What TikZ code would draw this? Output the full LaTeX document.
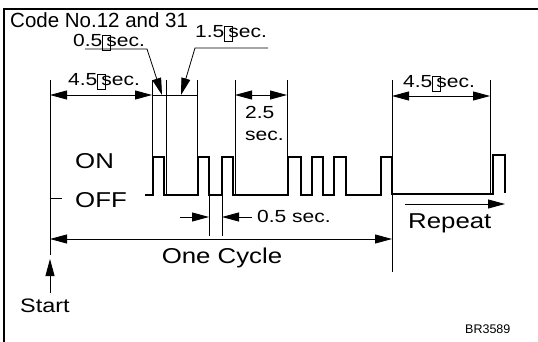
\documentclass[tikz,border=0pt]{standalone}
\usepackage{fontspec}
\setmainfont{Liberation Sans}
\newfontfamily\widefont[FakeStretch=1.2]{Liberation Sans}
\usetikzlibrary{arrows.meta}
\newcommand\missbox{{\fboxsep0pt\fboxrule0.5pt\raisebox{-0.18em}{\fbox{\rule{0pt}{0.82em}\hspace{0.42em}}}}\kern-0.25em}
\tikzset{
  thin line/.style={line width=0.8pt},
  onearrow/.style={thin line,-{Triangle[length=17pt,width=9pt]}},
  twoarrow/.style={thin line,{Triangle[length=17pt,width=9pt]}-{Triangle[length=17pt,width=9pt]}},
  wave/.style={line width=2.4pt,line join=miter},
  frame/.style={line width=2.5pt},
  small/.style={inner sep=0pt,anchor=base west,font=\widefont\fontsize{17.5}{20}\selectfont},
  large/.style={inner sep=0pt,anchor=base west,font=\widefont\fontsize{21.5}{24}\selectfont},
}
\begin{document}
\begin{tikzpicture}[x=1pt,y=-1pt]
\useasboundingbox (0,0) rectangle (538,342);
% frame
\coordinate (ftl) at (4,9);
\coordinate (ftr) at (538,9);
\coordinate (fbl) at (4,342);
\draw[frame] (ftr) -- (ftl) -- (fbl);

% texts
\node[inner sep=0pt,anchor=base west,font=\fontsize{20.5}{24}\selectfont] (code) at (10,28) {Code No.12 and 31};
\node[small] (t05) at (73,47) {0.5\missbox sec.};
\node[small] (t15) at (195,38) {1.5\missbox sec.};
\node[small] (t45a) at (68,86) {4.5\missbox sec.};
\node[small] (t45b) at (403,88) {4.5\missbox sec.};
\node[small] (t25a) at (245,119) {2.5};
\node[small] (t25b) at (245,141) {sec.};
\node[small] (t05b) at (257,222) {0.5 sec.};
\node[large] (on) at (75,168) {ON};
\node[large] (off) at (75,207) {OFF};
\node[large] (rep) at (408,228) {Repeat};
\node[large,anchor=base] (cyc) at (222,263) {One Cycle};
\node[inner sep=0pt,anchor=base west,font=\widefont\fontsize{19.5}{22}\selectfont] (start) at (20,312) {Start};
\node[inner sep=0pt,anchor=base west,font=\fontsize{12.5}{14}\selectfont] (br) at (465,333) {BR3589};

% vertical reference lines
\coordinate (s0) at (50,80);   \coordinate (s1) at (50,255);
\coordinate (a0) at (152,80);  \coordinate (a1) at (152,157);
\coordinate (b0) at (166,80);  \coordinate (b1) at (166,195);
\coordinate (c0) at (197,80);  \coordinate (c1) at (197,157);
\coordinate (d0) at (235,80);  \coordinate (d1) at (235,195);
\coordinate (e0) at (287,80);  \coordinate (e1) at (287,157);
\coordinate (f0) at (392,80);  \coordinate (f1) at (392,272);
\coordinate (g0) at (490,80);  \coordinate (g1) at (490,195);
\coordinate (h0) at (209,195); \coordinate (h1) at (209,236);
\coordinate (k0) at (222,195); \coordinate (k1) at (222,236);
\foreach \p in {s,a,b,c,d,e,f,g,h,k} \draw[thin line] (\p0) -- (\p1);

% OFF tick
\coordinate (tick0) at (50,198); \coordinate (tick1) at (62,198);
\draw[thin line] (tick0) -- (tick1);

% dimension lines at top
\coordinate (y45a) at (50,95);  \coordinate (y45b) at (152,95);
\draw[twoarrow] (y45a) -- (y45b);
\coordinate (ym0) at (152,95); \coordinate (ym1) at (197,95);
\draw[thin line] (ym0) -- (ym1);
\coordinate (y25a) at (235,95); \coordinate (y25b) at (287,95);
\draw[twoarrow] (y25a) -- (y25b);
\coordinate (y45c) at (392,96); \coordinate (y45d) at (490,96);
\draw[twoarrow] (y45c) -- (y45d);

% leaders
\coordinate (u05a) at (85,49);  \coordinate (u05b) at (147,49);
\coordinate (p05) at (162,95);
\draw[onearrow] (u05a) -- (u05b) -- (p05);
\coordinate (u15a) at (268,48); \coordinate (u15b) at (195,48);
\coordinate (p15) at (181,95);
\draw[onearrow] (u15a) -- (u15b) -- (p15);

% lower 0.5 sec arrows
\coordinate (l0) at (180,217); \coordinate (l1) at (209,217);
\coordinate (r0) at (252,217); \coordinate (r1) at (222,217);
\draw[onearrow] (l0) -- (l1);
\draw[onearrow] (r0) -- (r1);

% one cycle
\coordinate (oc0) at (50,239); \coordinate (oc1) at (392,239);
\draw[twoarrow] (oc0) -- (oc1);

% repeat
\coordinate (rp0) at (405,204); \coordinate (rp1) at (505,204);
\draw[onearrow] (rp0) -- (rp1);

% start
\coordinate (st0) at (50,293); \coordinate (st1) at (50,259);
\draw[onearrow] (st0) -- (st1);

% waveform
\draw[wave] (145,195) -- (153,195) |- (164,157) |- (198,195) |- (209,157) |- (222,195)
  |- (233,157) |- (288,195) |- (301,157) |- (312,195) |- (323,157) |- (334,195)
  |- (346,157) |- (381,195) |- (392,157) |- (493,194) |- (505,155) -- (505,193);
\end{tikzpicture}
\end{document}
